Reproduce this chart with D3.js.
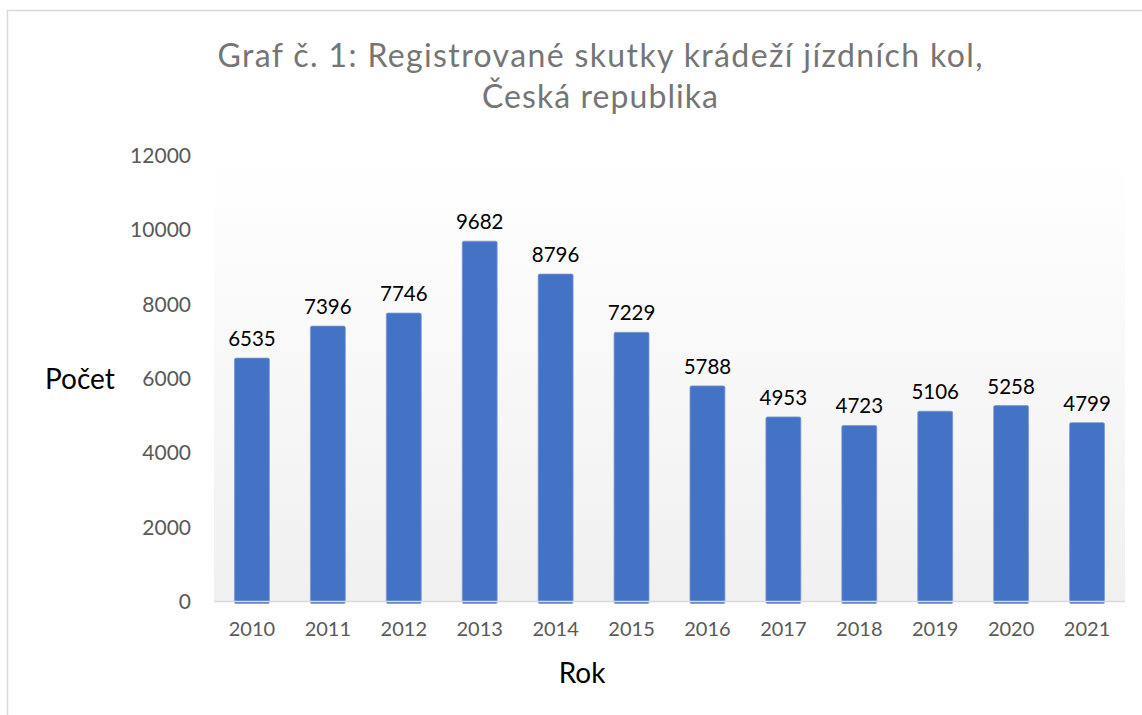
<!DOCTYPE html>
<html>
<head>
<meta charset="utf-8">
<script src="https://cdn.jsdelivr.net/npm/d3@7"></script>
<style>
  body { margin: 0; background: #fff; }
  svg { display: block; font-family: Lato, 'Noto Sans', sans-serif; }
</style>
</head>
<body>
<div id="chart"></div>
<script>
const years = ['2010', '2011', '2012', '2013', '2014', '2015', '2016', '2017', '2018', '2019', '2020', '2021']
const counts = [6535, 7396, 7746, 9682, 8796, 7229, 5788, 4953, 4723, 5106, 5258, 4799]
const yTicks = [0, 2000, 4000, 6000, 8000, 10000, 12000]
const titleLines = ['Graf č. 1: Registrované skutky krádeží jízdních kol,', 'Česká republika']

const W = 1142, H = 715
const plot = { left: 214, right: 1125, top: 155, bottom: 601 }

const svg = d3.select('#chart').append('svg').attr('width', W).attr('height', H)

// chart frame (only left and top visible in the picture)
svg.append('rect')
  .attr('x', 7.5).attr('y', 10.5)
  .attr('width', W + 20).attr('height', H + 20)
  .attr('fill', '#fff').attr('stroke', '#d9d9d9').attr('stroke-width', 1.5)

// plot area gradient
const grad = svg.append('defs').append('linearGradient')
  .attr('id', 'bg').attr('x1', 0).attr('y1', 0).attr('x2', 0).attr('y2', 1)
grad.append('stop').attr('offset', '0%').attr('stop-color', '#ffffff')
grad.append('stop').attr('offset', '100%').attr('stop-color', '#f0f0f0')

svg.append('rect')
  .attr('x', plot.left).attr('y', plot.top)
  .attr('width', plot.right - plot.left).attr('height', plot.bottom - plot.top)
  .attr('fill', 'url(#bg)')

const x = d3.scaleBand()
  .domain(years)
  .range([plot.left, plot.right])
  .paddingInner(0.54)
  .paddingOuter(0.27)

const y = d3.scaleLinear()
  .domain([0, 12000])
  .range([plot.bottom, plot.top])

// bars
svg.selectAll('.bar')
  .data(counts)
  .enter()
  .append('rect')
  .attr('class', 'bar')
  .attr('x', (d, i) => x(years[i]))
  .attr('y', (d) => y(d))
  .attr('width', x.bandwidth())
  .attr('height', (d) => y(0) - y(d) + 2.5)
  .attr('rx', 1.5)
  .attr('fill', '#4472c4')
  .attr('stroke', '#7b9bd6')
  .attr('stroke-width', 0.8)

// x axis line
svg.append('line')
  .attr('x1', plot.left).attr('x2', plot.right)
  .attr('y1', y(0) + 0.5).attr('y2', y(0) + 0.5)
  .attr('stroke', '#d9d9d9').attr('stroke-width', 1.5)

// y axis labels
const yAxis = svg.append('g')
  .attr('transform', `translate(191,0)`)
  .call(d3.axisLeft(y).tickValues(yTicks).tickSize(0).tickPadding(0).tickFormat(d3.format('d')))
yAxis.select('.domain').remove()
yAxis.selectAll('text')
  .attr('font-family', 'Lato, sans-serif')
  .attr('font-size', 21)
  .attr('fill', '#595959')
  .attr('dy', '0.36em')

// x axis labels
const xAxis = svg.append('g')
  .attr('transform', `translate(0,${plot.bottom})`)
  .call(d3.axisBottom(x).tickSize(0).tickPadding(0))
xAxis.select('.domain').remove()
xAxis.selectAll('text')
  .attr('font-family', 'Lato, sans-serif')
  .attr('font-size', 20)
  .attr('fill', '#595959')
  .attr('dy', null)
  .attr('y', 35)

// data labels
svg.selectAll('.label')
  .data(counts)
  .enter()
  .append('text')
  .attr('class', 'label')
  .attr('x', (d, i) => x(years[i]) + x.bandwidth() / 2)
  .attr('y', (d) => y(d) - 12)
  .attr('text-anchor', 'middle')
  .attr('font-size', 20.5)
  .attr('fill', '#000')
  .text((d) => d)

// title
svg.selectAll('.title')
  .data(titleLines)
  .enter()
  .append('text')
  .attr('class', 'title')
  .attr('x', 600)
  .attr('y', (d, i) => 67 + i * 41)
  .attr('text-anchor', 'middle')
  .attr('font-size', 32)
  .attr('fill', '#757575')
  .attr('textLength', (d, i) => (i === 0 ? 765 : 236))
  .attr('lengthAdjust', 'spacing')
  .text((d) => d)

// axis titles
svg.append('text')
  .attr('x', 45).attr('y', 389)
  .attr('font-size', 28)
  .attr('fill', '#000')
  .text('Počet')

svg.append('text')
  .attr('x', 582).attr('y', 683)
  .attr('text-anchor', 'middle')
  .attr('font-size', 28)
  .attr('fill', '#000')
  .text('Rok')
</script>
</body>
</html>
